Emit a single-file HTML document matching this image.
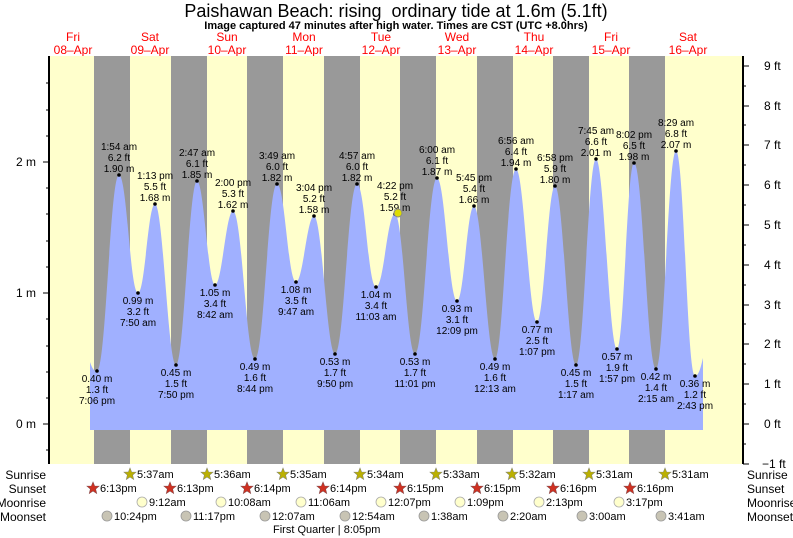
<!DOCTYPE html>
<html><head><meta charset="utf-8"><style>
body{margin:0;background:#fff}
svg{display:block;font-family:"Liberation Sans",sans-serif}
.l text{font-size:10px;text-anchor:middle;fill:#000}
.r text{font-size:11px;fill:#000}
</style></head><body>
<svg width="793" height="538" viewBox="0 0 793 538">
<text x="396" y="17" font-size="18" text-anchor="middle" style="white-space:pre">Paishawan Beach: rising  ordinary tide at 1.6m (5.1ft)</text>
<text x="396" y="29" font-size="11" font-weight="bold" text-anchor="middle">Image captured 47 minutes after high water. Times are CST (UTC +8.0hrs)</text>
<g font-size="12" fill="#f00" text-anchor="middle">
<text x="73" y="41">Fri</text><text x="73" y="54">08–Apr</text>
<text x="150" y="41">Sat</text><text x="150" y="54">09–Apr</text>
<text x="227" y="41">Sun</text><text x="227" y="54">10–Apr</text>
<text x="304" y="41">Mon</text><text x="304" y="54">11–Apr</text>
<text x="381" y="41">Tue</text><text x="381" y="54">12–Apr</text>
<text x="457" y="41">Wed</text><text x="457" y="54">13–Apr</text>
<text x="534" y="41">Thu</text><text x="534" y="54">14–Apr</text>
<text x="611" y="41">Fri</text><text x="611" y="54">15–Apr</text>
<text x="688" y="41">Sat</text><text x="688" y="54">16–Apr</text>
</g>
<rect x="50" y="56" width="692" height="408" fill="#ffffcc"/>
<g fill="#999">
<rect x="94" y="56" width="36" height="408"/><rect x="171" y="56" width="36" height="408"/>
<rect x="247" y="56" width="36" height="408"/><rect x="324" y="56" width="36" height="408"/>
<rect x="400" y="56" width="36" height="408"/><rect x="477" y="56" width="36" height="408"/>
<rect x="553" y="56" width="36" height="408"/><rect x="629" y="56" width="36" height="408"/>
</g>
<path fill="#a0b0ff" d="M90,430 L90,362 C93,371 95,371 97,371
C106,371 110,175 119,175 C127,175 130,293 138,293 C145,293 148,204 155,204 C163,204 168,365 176,365
C184,365 189,181 197,181 C204,181 208,285 215,285 C222,285 226,211 233,211 C242,211 246,359 255,359
C264,359 268,184 277,184 C285,184 288,282 296,282 C303,282 307,216 314,216 C322,216 327,354 335,354
C344,354 348,184 357,184 C365,184 368,287 376,287 C384,287 387,214 395,214 C403,214 407,354 415,354
C424,354 428,178 437,178 C445,178 449,301 457,301 C464,301 467,206 474,206 C482,206 487,359 495,359
C503,359 507,169 516,169 C524,169 529,322 537,322 C544,322 548,186 555,186 C563,186 568,365 576,365
C584,365 588,159 596,159 C604,159 609,349 617,349 C624,349 627,163 634,163 C643,163 647,369 656,369
C664,369 668,151 676,151 C684,151 687,376 695,376 C699,376 701,366 703,358 L703,430 Z"/>
<g stroke="#000" stroke-width="2"><line x1="49" y1="56" x2="49" y2="464"/><line x1="743" y1="56" x2="743" y2="464"/></g>
<g stroke="#000" stroke-width="1">
<line x1="43" y1="424" x2="49" y2="424"/><line x1="43" y1="293" x2="49" y2="293"/><line x1="43" y1="162" x2="49" y2="162"/>
<line x1="46" y1="450" x2="49" y2="450"/><line x1="46" y1="398" x2="49" y2="398"/><line x1="46" y1="372" x2="49" y2="372"/><line x1="46" y1="346" x2="49" y2="346"/><line x1="46" y1="319" x2="49" y2="319"/><line x1="46" y1="267" x2="49" y2="267"/><line x1="46" y1="241" x2="49" y2="241"/><line x1="46" y1="214" x2="49" y2="214"/><line x1="46" y1="188" x2="49" y2="188"/><line x1="46" y1="136" x2="49" y2="136"/><line x1="46" y1="110" x2="49" y2="110"/><line x1="46" y1="83" x2="49" y2="83"/>
<line x1="743" y1="464" x2="749" y2="464"/><line x1="743" y1="424" x2="749" y2="424"/><line x1="743" y1="384" x2="749" y2="384"/><line x1="743" y1="344" x2="749" y2="344"/><line x1="743" y1="305" x2="749" y2="305"/><line x1="743" y1="265" x2="749" y2="265"/><line x1="743" y1="225" x2="749" y2="225"/><line x1="743" y1="185" x2="749" y2="185"/><line x1="743" y1="145" x2="749" y2="145"/><line x1="743" y1="106" x2="749" y2="106"/><line x1="743" y1="66" x2="749" y2="66"/>
<line x1="743" y1="444" x2="746" y2="444"/><line x1="743" y1="404" x2="746" y2="404"/><line x1="743" y1="364" x2="746" y2="364"/><line x1="743" y1="324" x2="746" y2="324"/><line x1="743" y1="285" x2="746" y2="285"/><line x1="743" y1="245" x2="746" y2="245"/><line x1="743" y1="205" x2="746" y2="205"/><line x1="743" y1="165" x2="746" y2="165"/><line x1="743" y1="125" x2="746" y2="125"/><line x1="743" y1="86" x2="746" y2="86"/>
</g>
<g font-size="12" text-anchor="end"><text x="36" y="428">0 m</text><text x="36" y="297">1 m</text><text x="36" y="166">2 m</text></g>
<g font-size="12"><text x="762" y="468">−1 ft</text><text x="764" y="428">0 ft</text><text x="764" y="388">1 ft</text><text x="764" y="348">2 ft</text><text x="764" y="309">3 ft</text><text x="764" y="269">4 ft</text><text x="764" y="229">5 ft</text><text x="764" y="189">6 ft</text><text x="764" y="149">7 ft</text><text x="764" y="110">8 ft</text><text x="764" y="70">9 ft</text></g>
<g class="l">
<g transform="translate(97,371)"><circle r="1.8"/><text y="11">0.40 m</text><text y="22">1.3 ft</text><text y="33">7:06 pm</text></g>
<g transform="translate(138,293)"><circle r="1.8"/><text y="11">0.99 m</text><text y="22">3.2 ft</text><text y="33">7:50 am</text></g>
<g transform="translate(176,365)"><circle r="1.8"/><text y="11">0.45 m</text><text y="22">1.5 ft</text><text y="33">7:50 pm</text></g>
<g transform="translate(215,285)"><circle r="1.8"/><text y="11">1.05 m</text><text y="22">3.4 ft</text><text y="33">8:42 am</text></g>
<g transform="translate(255,359)"><circle r="1.8"/><text y="11">0.49 m</text><text y="22">1.6 ft</text><text y="33">8:44 pm</text></g>
<g transform="translate(296,282)"><circle r="1.8"/><text y="11">1.08 m</text><text y="22">3.5 ft</text><text y="33">9:47 am</text></g>
<g transform="translate(335,354)"><circle r="1.8"/><text y="11">0.53 m</text><text y="22">1.7 ft</text><text y="33">9:50 pm</text></g>
<g transform="translate(376,287)"><circle r="1.8"/><text y="11">1.04 m</text><text y="22">3.4 ft</text><text y="33">11:03 am</text></g>
<g transform="translate(415,354)"><circle r="1.8"/><text y="11">0.53 m</text><text y="22">1.7 ft</text><text y="33">11:01 pm</text></g>
<g transform="translate(457,301)"><circle r="1.8"/><text y="11">0.93 m</text><text y="22">3.1 ft</text><text y="33">12:09 pm</text></g>
<g transform="translate(495,359)"><circle r="1.8"/><text y="11">0.49 m</text><text y="22">1.6 ft</text><text y="33">12:13 am</text></g>
<g transform="translate(537,322)"><circle r="1.8"/><text y="11">0.77 m</text><text y="22">2.5 ft</text><text y="33">1:07 pm</text></g>
<g transform="translate(576,365)"><circle r="1.8"/><text y="11">0.45 m</text><text y="22">1.5 ft</text><text y="33">1:17 am</text></g>
<g transform="translate(617,349)"><circle r="1.8"/><text y="11">0.57 m</text><text y="22">1.9 ft</text><text y="33">1:57 pm</text></g>
<g transform="translate(656,369)"><circle r="1.8"/><text y="11">0.42 m</text><text y="22">1.4 ft</text><text y="33">2:15 am</text></g>
<g transform="translate(695,376)"><circle r="1.8"/><text y="11">0.36 m</text><text y="22">1.2 ft</text><text y="33">2:43 pm</text></g>
<g transform="translate(119,175)"><circle r="1.8"/><text y="-25">1:54 am</text><text y="-14">6.2 ft</text><text y="-3">1.90 m</text></g>
<g transform="translate(155,204)"><circle r="1.8"/><text y="-25">1:13 pm</text><text y="-14">5.5 ft</text><text y="-3">1.68 m</text></g>
<g transform="translate(197,181)"><circle r="1.8"/><text y="-25">2:47 am</text><text y="-14">6.1 ft</text><text y="-3">1.85 m</text></g>
<g transform="translate(233,211)"><circle r="1.8"/><text y="-25">2:00 pm</text><text y="-14">5.3 ft</text><text y="-3">1.62 m</text></g>
<g transform="translate(277,184)"><circle r="1.8"/><text y="-25">3:49 am</text><text y="-14">6.0 ft</text><text y="-3">1.82 m</text></g>
<g transform="translate(314,216)"><circle r="1.8"/><text y="-25">3:04 pm</text><text y="-14">5.2 ft</text><text y="-3">1.58 m</text></g>
<g transform="translate(357,184)"><circle r="1.8"/><text y="-25">4:57 am</text><text y="-14">6.0 ft</text><text y="-3">1.82 m</text></g>
<g transform="translate(395,214)"><circle r="1.8"/><text y="-25">4:22 pm</text><text y="-14">5.2 ft</text><text y="-3">1.59 m</text></g>
<g transform="translate(437,178)"><circle r="1.8"/><text y="-25">6:00 am</text><text y="-14">6.1 ft</text><text y="-3">1.87 m</text></g>
<g transform="translate(474,206)"><circle r="1.8"/><text y="-25">5:45 pm</text><text y="-14">5.4 ft</text><text y="-3">1.66 m</text></g>
<g transform="translate(516,169)"><circle r="1.8"/><text y="-25">6:56 am</text><text y="-14">6.4 ft</text><text y="-3">1.94 m</text></g>
<g transform="translate(555,186)"><circle r="1.8"/><text y="-25">6:58 pm</text><text y="-14">5.9 ft</text><text y="-3">1.80 m</text></g>
<g transform="translate(596,159)"><circle r="1.8"/><text y="-25">7:45 am</text><text y="-14">6.6 ft</text><text y="-3">2.01 m</text></g>
<g transform="translate(634,163)"><circle r="1.8"/><text y="-25">8:02 pm</text><text y="-14">6.5 ft</text><text y="-3">1.98 m</text></g>
<g transform="translate(676,151)"><circle r="1.8"/><text y="-25">8:29 am</text><text y="-14">6.8 ft</text><text y="-3">2.07 m</text></g>
</g>
<circle cx="398" cy="213" r="4" fill="#dddd00" stroke="#888" stroke-width="1"/>
<g font-size="12" text-anchor="end"><text x="46" y="479">Sunrise</text><text x="46" y="493">Sunset</text><text x="46" y="507">Moonrise</text><text x="46" y="521">Moonset</text></g>
<g font-size="12"><text x="747" y="479">Sunrise</text><text x="747" y="493">Sunset</text><text x="747" y="507">Moonrise</text><text x="747" y="521">Moonset</text></g>
<defs><polygon id="st" points="0,-6 1.6,-2 6,-1.9 2.6,1 3.7,5.5 0,3 -3.7,5.5 -2.6,1 -6,-1.9 -1.6,-2"/></defs>
<g class="r">
<g fill="#bbb000" stroke="#886" stroke-width=".6"><use href="#st" x="130" y="474"/><use href="#st" x="207" y="474"/><use href="#st" x="283" y="474"/><use href="#st" x="360" y="474"/><use href="#st" x="436" y="474"/><use href="#st" x="512" y="474"/><use href="#st" x="589" y="474"/><use href="#st" x="665" y="474"/></g>
<text x="137" y="478">5:37am</text><text x="214" y="478">5:36am</text><text x="290" y="478">5:35am</text><text x="367" y="478">5:34am</text><text x="443" y="478">5:33am</text><text x="519" y="478">5:32am</text><text x="596" y="478">5:31am</text><text x="672" y="478">5:31am</text>
<g fill="#d03020" stroke="#844" stroke-width=".6"><use href="#st" x="93" y="488"/><use href="#st" x="170" y="488"/><use href="#st" x="247" y="488"/><use href="#st" x="323" y="488"/><use href="#st" x="400" y="488"/><use href="#st" x="477" y="488"/><use href="#st" x="553" y="488"/><use href="#st" x="630" y="488"/></g>
<text x="100" y="492">6:13pm</text><text x="177" y="492">6:13pm</text><text x="254" y="492">6:14pm</text><text x="330" y="492">6:14pm</text><text x="407" y="492">6:15pm</text><text x="484" y="492">6:15pm</text><text x="560" y="492">6:16pm</text><text x="637" y="492">6:16pm</text>
<g fill="#ffffcc" stroke="#aaa" stroke-width=".8"><circle cx="142" cy="502" r="5"/><circle cx="221" cy="502" r="5"/><circle cx="301" cy="502" r="5"/><circle cx="381" cy="502" r="5"/><circle cx="460" cy="502" r="5"/><circle cx="539" cy="502" r="5"/><circle cx="619" cy="502" r="5"/></g>
<text x="149" y="506">9:12am</text><text x="228" y="506">10:08am</text><text x="308" y="506">11:06am</text><text x="388" y="506">12:07pm</text><text x="467" y="506">1:09pm</text><text x="546" y="506">2:13pm</text><text x="626" y="506">3:17pm</text>
<g fill="#c8c4b4" stroke="#999" stroke-width=".8"><circle cx="107" cy="516" r="5"/><circle cx="186" cy="516" r="5"/><circle cx="265" cy="516" r="5"/><circle cx="345" cy="516" r="5"/><circle cx="424" cy="516" r="5"/><circle cx="503" cy="516" r="5"/><circle cx="582" cy="516" r="5"/><circle cx="661" cy="516" r="5"/></g>
<text x="114" y="520">10:24pm</text><text x="193" y="520">11:17pm</text><text x="272" y="520">12:07am</text><text x="352" y="520">12:54am</text><text x="431" y="520">1:38am</text><text x="510" y="520">2:20am</text><text x="589" y="520">3:00am</text><text x="668" y="520">3:41am</text>
<text x="273" y="533" font-size="10">First Quarter | 8:05pm</text>
</g>
</svg>
</body></html>
